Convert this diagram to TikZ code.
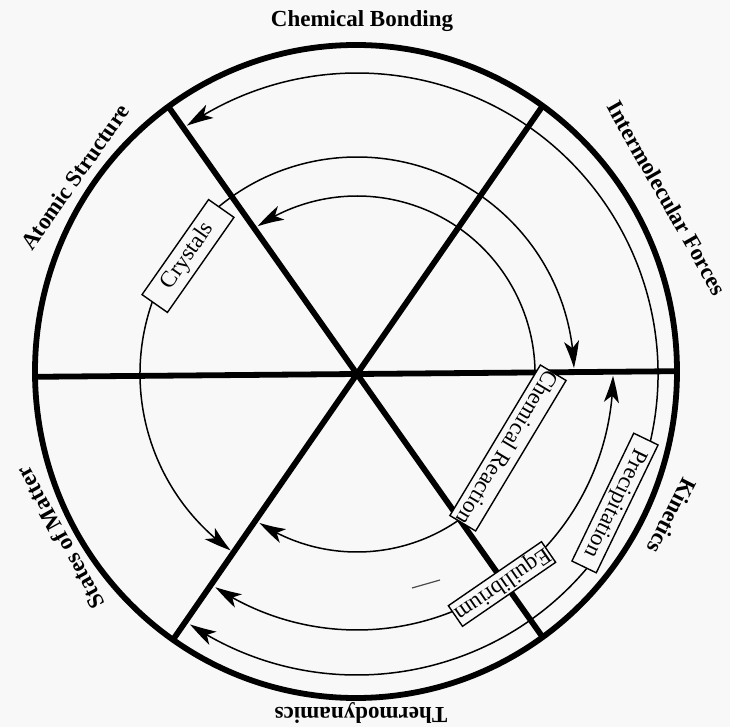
\documentclass[tikz,border=0pt]{standalone}
\usepackage{fontspec}
\setmainfont{Liberation Serif}
\usetikzlibrary{arrows.meta,bending}
\definecolor{paper}{RGB}{248,248,248}
\begin{document}
\begin{tikzpicture}[x=1pt,y=1pt,
  heavy/.style={line width=5.8pt, line cap=butt},
  thinarc/.style={line width=1.5pt},
  arr/.style={thinarc, -{Stealth[length=27pt,width=15pt,inset=7pt,bend]}},
  lab/.style={font=\fontsize{23}{26}\selectfont\bfseries, inner sep=0pt},
  tag/.style={draw, line width=1.4pt, fill=paper, inner sep=0pt,
    font=\fontsize{23}{26}\selectfont}
]
\fill[paper] (-357,-353) rectangle (373,374);
\useasboundingbox (-357,-353) rectangle (373,374);

% spokes, clipped to the outer rim
\begin{scope}
  \clip (-1,2.5) ellipse [x radius=321, y radius=326.5];
  \draw[heavy] (180.5:400) -- (0.5:400);
  \draw[heavy] (125.2:400) -- (-54.8:400);
  \draw[heavy] (55.3:400) -- (235.3:400);
\end{scope}

% ring 1 (Precipitation)
\draw[arr] (-16.6:301) arc[start angle=-16.6, end angle=124.4, radius=301];
\draw[arr] (-36.6:301) arc[start angle=-36.6, end angle=-123.7, radius=301];
% ring 2 (Equilibrium)
\draw[arr] (-50.4:256) arc[start angle=-50.4, end angle=-0.4, radius=256];
\draw[arr] (-60.4:256) arc[start angle=-60.4, end angle=-123.6, radius=256];
% ring 3 (Crystals)
\draw[arr] (137:217) arc[start angle=137, end angle=1.6, radius=217];
\draw[arr] (153:217) arc[start angle=153, end angle=234.4, radius=217];
% ring 4 (Chemical Reaction)
\draw[arr] (-15:178) arc[start angle=-15, end angle=123.9, radius=178];
\draw[arr] (-40:178) arc[start angle=-40, end angle=-123.2, radius=178];

% boxed labels
\node[tag, minimum width=116pt, minimum height=31pt, rotate=55] (crys) at (-169,118) {Crystals};
\node[tag, minimum width=170pt, minimum height=30pt, rotate=-121] (chemr) at (151,-74) {Chemical Reaction};
\node[tag, minimum width=142pt, minimum height=27pt, rotate=-115.8] (prec) at (258,-129) {Precipitation};
\node[tag, minimum width=113pt, minimum height=25pt, rotate=-145.5] (equi) at (145,-210) {Equilibrium};

% stray mark
\draw[line width=1.2pt, black!70] (55,-214) -- (83,-206);

% outer rim
\draw[heavy] (-1,2.5) ellipse [x radius=321, y radius=326.5];

% outer labels
\node[lab] (cb) at (5,353) {Chemical Bonding};
\node[lab, rotate=-60.4] (imf) at (310,176) {Intermolecular Forces};
\node[lab, rotate=-117] (kin) at (315,-142) {Kinetics};
\node[lab, rotate=180] (thermo) at (4,-339) {Thermodynamics};
\node[lab, rotate=118.9] (som) at (-297,-164) {States of Matter};
\node[lab, rotate=55] (atom) at (-282,197) {Atomic Structure};
\end{tikzpicture}
\end{document}
